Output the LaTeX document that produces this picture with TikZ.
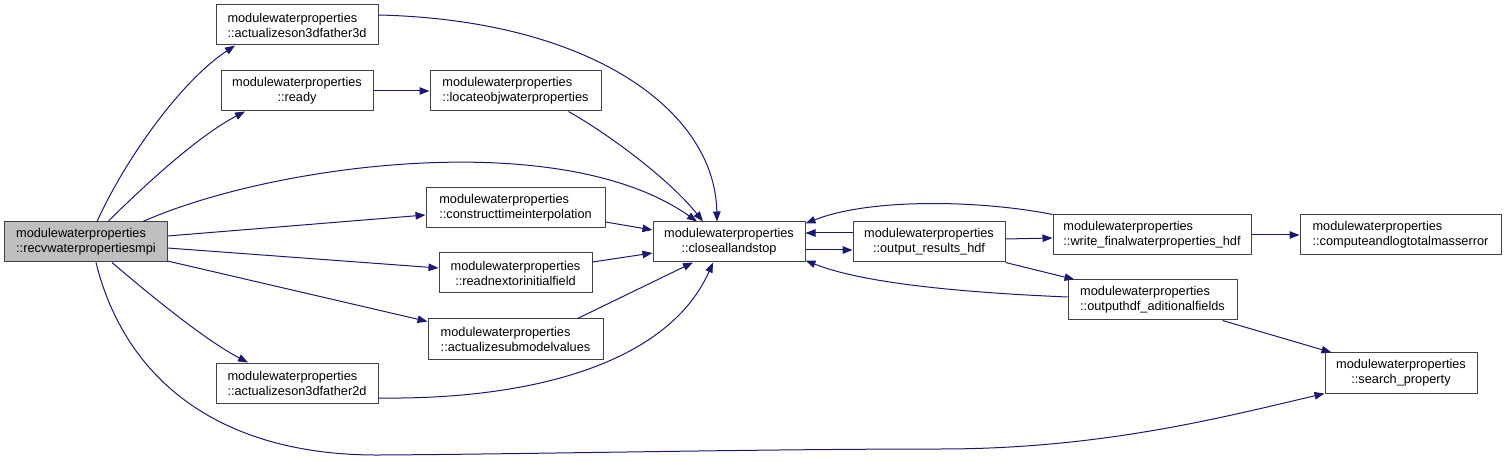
\documentclass[tikz,border=0pt]{standalone}
\usepackage{fontspec}
\setmainfont{Liberation Sans}
\usepackage{xcolor}
\usepackage{tikz}
\usetikzlibrary{arrows.meta,calc,positioning}

\definecolor{edgeblue}{HTML}{191970}
\definecolor{boxgray}{HTML}{BFBFBF}
\definecolor{boxline}{HTML}{404040}

\begin{document}
\begin{tikzpicture}[x=1bp, y=-1bp, font={\fontsize{12.8}{15}\selectfont},
  >={Triangle[length=10bp,width=7.5bp]}, line join=round,
  func/.style={draw=boxline, line width=1bp, fill=white, minimum height=40bp, inner sep=0pt, align=left},
  link/.style={->, draw=edgeblue, line width=1bp}]
  \useasboundingbox (0,0) rectangle (1507,463);

  % Caller and its direct callees.
  \node[func, fill=boxgray, minimum width=162bp] (recv) at (86,242) {modulewaterproperties\\::recvwaterpropertiesmpi};
  \node[func, minimum width=162bp] (a3d) at (297,25) {modulewaterproperties\\::actualizeson3dfather3d};
  \node[func, minimum width=152bp, align=center] (ready) at (297,91) {modulewaterproperties\\::ready};
  \node[func, minimum width=171bp] (locate) at (515.5,91) {modulewaterproperties\\::locateobjwaterproperties};
  \node[func, minimum width=179bp] (construct) at (515.5,208) {modulewaterproperties\\::constructtimeinterpolation};
  \node[func, minimum width=153bp, align=center] (readnext) at (515.5,273) {modulewaterproperties\\::readnextorinitialfield};
  \node[func, minimum width=175bp] (submodel) at (515.5,339) {modulewaterproperties\\::actualizesubmodelvalues};
  \node[func, minimum width=162bp] (a2d) at (297,383) {modulewaterproperties\\::actualizeson3dfather2d};

  % Shutdown and output chain.
  \node[func, minimum width=152bp, align=center] (closeall) at (729,242) {modulewaterproperties\\::closeallandstop};
  \node[func, minimum width=152bp, align=center] (results) at (929,242) {modulewaterproperties\\::output\_results\_hdf};
  \node[func, minimum width=198bp] (writefinal) at (1152,235) {modulewaterproperties\\::write\_finalwaterproperties\_hdf};
  \node[func, minimum width=169bp] (aditional) at (1152.5,300) {modulewaterproperties\\::outputhdf\_aditionalfields};
  \node[func, minimum width=201bp] (masserror) at (1400.5,235) {modulewaterproperties\\::computeandlogtotalmasserror};
  \node[func, minimum width=152bp, align=center] (search) at (1401,373) {modulewaterproperties\\::search\_property};

  % Calls from recvwaterpropertiesmpi.
  \draw[link] ([xshift=11bp]recv.north) .. controls (125,160) and (180,82) .. ([xshift=-62bp]a3d.south);
  \draw[link] ([xshift=22bp]recv.north) .. controls (150,180) and (200,135) .. ([xshift=-52bp]ready.south);
  \draw[link] ([xshift=57bp]recv.north) .. controls (270,165) and (560,125) .. ([xshift=-32bp]closeall.north);
  \draw[link] ([yshift=6bp]recv.east) -- ([yshift=-7bp]construct.west);
  \draw[link] ([yshift=-6bp]recv.east) -- ([yshift=5bp]readnext.west);
  \draw[link] ([yshift=-19bp]recv.east) -- ([yshift=-3bp]submodel.north west);
  \draw[link] ([xshift=26bp]recv.south) .. controls (150,295) and (205,340) .. ([xshift=-49bp]a2d.north);
  \draw[link] ([xshift=10bp]recv.south) .. controls (125,380) and (220,456) .. (380,455)
    .. controls (540,454) and (760,449) .. (940,449) .. controls (1100,449) and (1220,418) .. (search.south west);

  % Calls into closeallandstop.
  \draw[link] (ready.east) -- (locate.west);
  \draw[link] ([yshift=10bp]a3d.east) .. controls (590,20) and (715,110) .. ([xshift=-12bp]closeall.north);
  \draw[link] ([xshift=53bp]locate.south) .. controls (610,135) and (670,180) .. ([xshift=-26bp]closeall.north);
  \draw[link] ([yshift=-14bp]construct.east) -- ([yshift=12bp]closeall.west);
  \draw[link] ([yshift=11bp]readnext.east) -- ([yshift=-11bp]closeall.west);
  \draw[link] ([xshift=62bp]submodel.north) -- ([xshift=-36bp]closeall.south);
  \draw[link] ([yshift=-15bp]a2d.east) .. controls (540,400) and (670,360) .. ([xshift=-16bp]closeall.south);

  % Output calls.
  \draw[link] ([yshift=-8bp]closeall.east) -- ([yshift=-8bp]results.west);
  \draw[link] ([yshift=9bp]results.west) -- ([yshift=9bp]closeall.east);
  \draw[link] (writefinal.north west) .. controls (980,200) and (870,198) .. ([yshift=-2bp]closeall.north east);
  \draw[link] ([yshift=3bp]aditional.west) .. controls (950,292) and (860,282) .. ([yshift=2bp]closeall.south east);
  \draw[link] ([yshift=3bp]results.east) -- ([yshift=-3bp]writefinal.west);
  \draw[link] (results.south east) -- ([xshift=7bp]aditional.north west);
  \draw[link] (writefinal.east) -- (masserror.west);
  \draw[link] ([xshift=-15bp]aditional.south east) -- ([xshift=7bp]search.north west);
\end{tikzpicture}
\end{document}
